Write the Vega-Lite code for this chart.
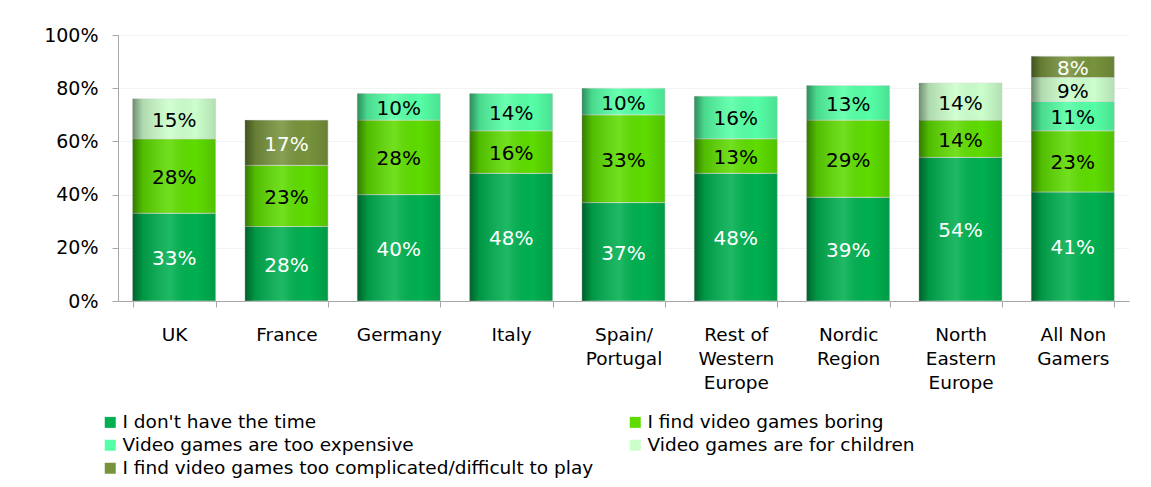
{
  "$schema": "https://vega.github.io/schema/vega-lite/v6.json",
  "autosize": {"type": "none"},
  "padding": {"left": 118, "top": 35, "right": 22, "bottom": 186},
  "width": 1011,
  "height": 266,
  "background": "white",
  "config": {
    "font": "DejaVu Sans",
    "view": {"stroke": null}
  },
  "data": {
    "values": [
      {"region": "UK", "series": "I don't have the time", "k": 1, "v": 33},
      {"region": "UK", "series": "I find video games boring", "k": 2, "v": 28},
      {"region": "UK", "series": "Video games are for children", "k": 4, "v": 15},
      {"region": "France", "series": "I don't have the time", "k": 1, "v": 28},
      {"region": "France", "series": "I find video games boring", "k": 2, "v": 23},
      {"region": "France", "series": "I find video games too complicated/difficult to play", "k": 5, "v": 17},
      {"region": "Germany", "series": "I don't have the time", "k": 1, "v": 40},
      {"region": "Germany", "series": "I find video games boring", "k": 2, "v": 28},
      {"region": "Germany", "series": "Video games are too expensive", "k": 3, "v": 10},
      {"region": "Italy", "series": "I don't have the time", "k": 1, "v": 48},
      {"region": "Italy", "series": "I find video games boring", "k": 2, "v": 16},
      {"region": "Italy", "series": "Video games are too expensive", "k": 3, "v": 14},
      {"region": "Spain/|Portugal", "series": "I don't have the time", "k": 1, "v": 37},
      {"region": "Spain/|Portugal", "series": "I find video games boring", "k": 2, "v": 33},
      {"region": "Spain/|Portugal", "series": "Video games are too expensive", "k": 3, "v": 10},
      {"region": "Rest of|Western|Europe", "series": "I don't have the time", "k": 1, "v": 48},
      {"region": "Rest of|Western|Europe", "series": "I find video games boring", "k": 2, "v": 13},
      {"region": "Rest of|Western|Europe", "series": "Video games are too expensive", "k": 3, "v": 16},
      {"region": "Nordic|Region", "series": "I don't have the time", "k": 1, "v": 39},
      {"region": "Nordic|Region", "series": "I find video games boring", "k": 2, "v": 29},
      {"region": "Nordic|Region", "series": "Video games are too expensive", "k": 3, "v": 13},
      {"region": "North|Eastern|Europe", "series": "I don't have the time", "k": 1, "v": 54},
      {"region": "North|Eastern|Europe", "series": "I find video games boring", "k": 2, "v": 14},
      {"region": "North|Eastern|Europe", "series": "Video games are for children", "k": 4, "v": 14},
      {"region": "All Non|Gamers", "series": "I don't have the time", "k": 1, "v": 41},
      {"region": "All Non|Gamers", "series": "I find video games boring", "k": 2, "v": 23},
      {"region": "All Non|Gamers", "series": "Video games are too expensive", "k": 3, "v": 11},
      {"region": "All Non|Gamers", "series": "Video games are for children", "k": 4, "v": 9},
      {"region": "All Non|Gamers", "series": "I find video games too complicated/difficult to play", "k": 5, "v": 8}
    ]
  },
  "transform": [
    {"stack": "v", "groupby": ["region"], "sort": [{"field": "k"}], "as": ["v0", "v1"]},
    {"calculate": "(datum.v0 + datum.v1) / 2", "as": "vm"},
    {"calculate": "datum.v + '%'", "as": "lbl"}
  ],
  "encoding": {
    "x": {
      "field": "region", "type": "nominal", "sort": null,
      "scale": {"paddingInner": 0.26, "paddingOuter": 0.13},
      "axis": {
        "title": null, "labelAngle": 0,
        "labelExpr": "split(datum.label, '|')",
        "labelFontSize": 18.5, "labelColor": "#000000", "labelLineHeight": 24,
        "labelPadding": 18, "labelBaseline": "top",
        "domainColor": "#a6a6a6", "tickColor": "#a6a6a6", "tickSize": 6,
        "tickBand": "extent", "grid": false
      }
    }
  },
  "layer": [
    {
      "mark": {"type": "bar", "stroke": "#e3e3e3", "strokeWidth": 0.6},
      "encoding": {
        "y": {
          "field": "v0", "type": "quantitative",
          "scale": {"domain": [0, 100]},
          "axis": {
            "title": null, "values": [0, 20, 40, 60, 80, 100],
            "labelExpr": "datum.value + '%'",
            "labelFontSize": 19, "labelColor": "#000000", "labelPadding": 14,
            "domainColor": "#a6a6a6", "tickColor": "#a6a6a6", "tickSize": 6,
            "gridColor": "#f3f3f3"
          }
        },
        "y2": {"field": "v1"},
        "color": {
          "field": "series", "type": "nominal",
          "scale": {
            "domain": ["I don't have the time", "I find video games boring", "Video games are too expensive", "Video games are for children", "I find video games too complicated/difficult to play"],
            "range": ["#00b050", "#5edc00", "#55ffa6", "#ccffcc", "#77933c"]
          },
          "legend": {
            "title": null, "orient": "none", "legendX": -17, "legendY": 378,
            "direction": "horizontal", "columns": 2, "columnPadding": 32, "rowPadding": 4,
            "symbolType": "square", "symbolSize": 121, "symbolStrokeWidth": 0,
            "labelFontSize": 18.5, "labelColor": "#000000", "labelLimit": 700, "labelOffset": 3
          }
        }
      }
    },
    {
      "mark": {
        "type": "bar",
        "fill": {
          "gradient": "linear", "x1": 0, "x2": 1, "y1": 0, "y2": 0,
          "stops": [
            {"offset": 0, "color": "rgba(0,0,0,0.45)"},
            {"offset": 0.12, "color": "rgba(0,0,0,0.15)"},
            {"offset": 0.45, "color": "rgba(255,255,255,0.12)"},
            {"offset": 0.75, "color": "rgba(0,0,0,0)"},
            {"offset": 1, "color": "rgba(0,0,0,0.12)"}
          ]
        }
      },
      "encoding": {
        "y": {"field": "v0", "type": "quantitative"},
        "y2": {"field": "v1"}
      }
    },
    {
      "mark": {"type": "text", "fontSize": 20, "baseline": "middle", "dy": 2},
      "encoding": {
        "y": {"field": "vm", "type": "quantitative"},
        "text": {"field": "lbl", "type": "nominal"},
        "color": {
          "condition": {"test": "datum.k == 1 || datum.k == 5", "value": "#ffffff"},
          "value": "#000000"
        }
      }
    }
  ]
}
